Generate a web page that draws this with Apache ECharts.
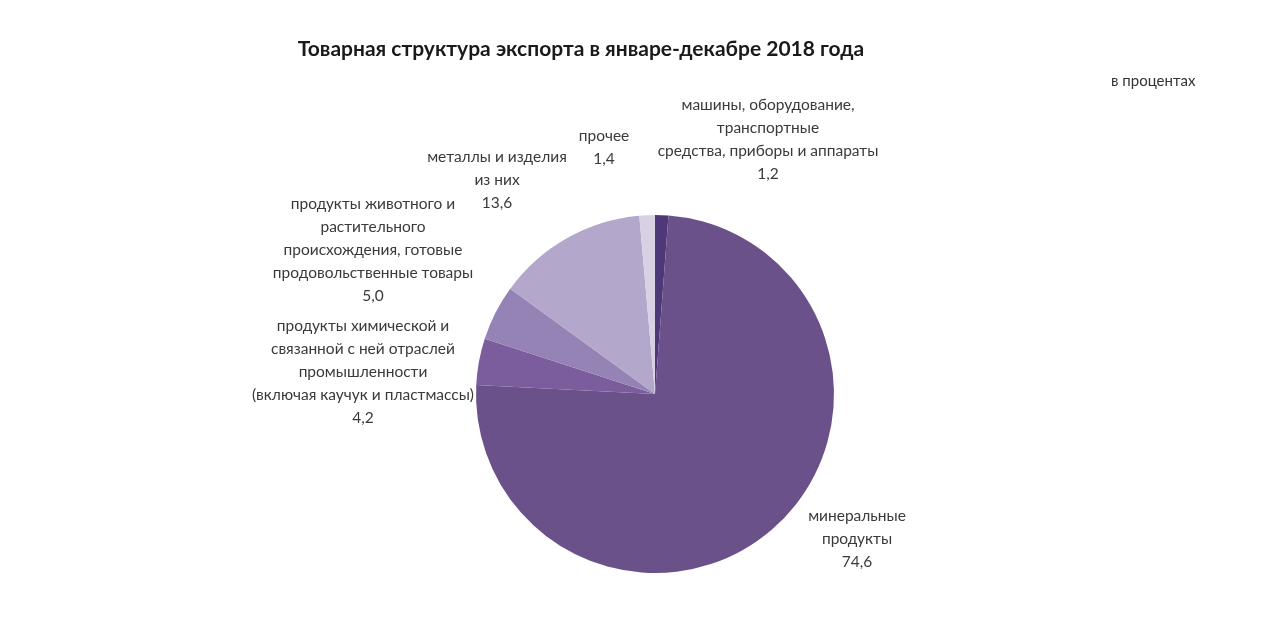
<!DOCTYPE html>
<html><head><meta charset="utf-8">
<script src="https://cdn.jsdelivr.net/npm/echarts@6/dist/echarts.min.js"></script>
<style>html,body{margin:0;padding:0;background:#fff}#c{width:1288px;height:619px}</style>
</head><body><div id="c"></div>
<script>
const categories = [
  "машины, оборудование,\nтранспортные\nсредства, приборы и аппараты",
  "минеральные\nпродукты",
  "продукты химической и\nсвязанной с ней отраслей\nпромышленности\n(включая каучук и пластмассы)",
  "продукты животного и\nрастительного\nпроисхождения, готовые\nпродовольственные товары",
  "металлы и изделия\nиз них",
  "прочее"
];
const values = [1.2, 74.6, 4.2, 5.0, 13.6, 1.4];
const colors = ["#4e3878", "#6b5189", "#7b5c9c", "#9483b4", "#b3a7cb", "#d8d1e4"];
const labelPos = [[768, 139], [857, 539], [363, 372], [373, 250], [497, 180], [604, 147]];

const chart = echarts.init(document.getElementById('c'));
chart.setOption({
  animation: false,
  title: {
    text: "Товарная структура экспорта в январе-декабре 2018 года",
    left: 576, top: 34, textAlign: 'center',
    textStyle: {fontFamily: 'Lato', fontWeight: 'bold', fontSize: 21, color: '#1a1a1a'}
  },
  graphic: [{type: 'text', left: 1111, top: 74,
    style: {text: 'в процентах', font: '15px Lato', fill: '#333'}}],
  series: [{
    type: 'pie',
    center: [655, 394],
    radius: 179,
    startAngle: 90,
    clockwise: true,
    data: categories.map((n, i) => ({name: n, value: values[i], itemStyle: {color: colors[i]}})),
    label: {
      show: true,
      formatter: p => p.name + '\n' + p.value.toFixed(1).replace('.', ','),
      fontFamily: 'Lato', fontSize: 15.5, color: '#3a3a3a', lineHeight: 23, align: 'center'
    },
    labelLine: {show: false},
    labelLayout: p => ({x: labelPos[p.dataIndex][0], y: labelPos[p.dataIndex][1], align: 'center', verticalAlign: 'middle'})
  }]
});
</script></body></html>
